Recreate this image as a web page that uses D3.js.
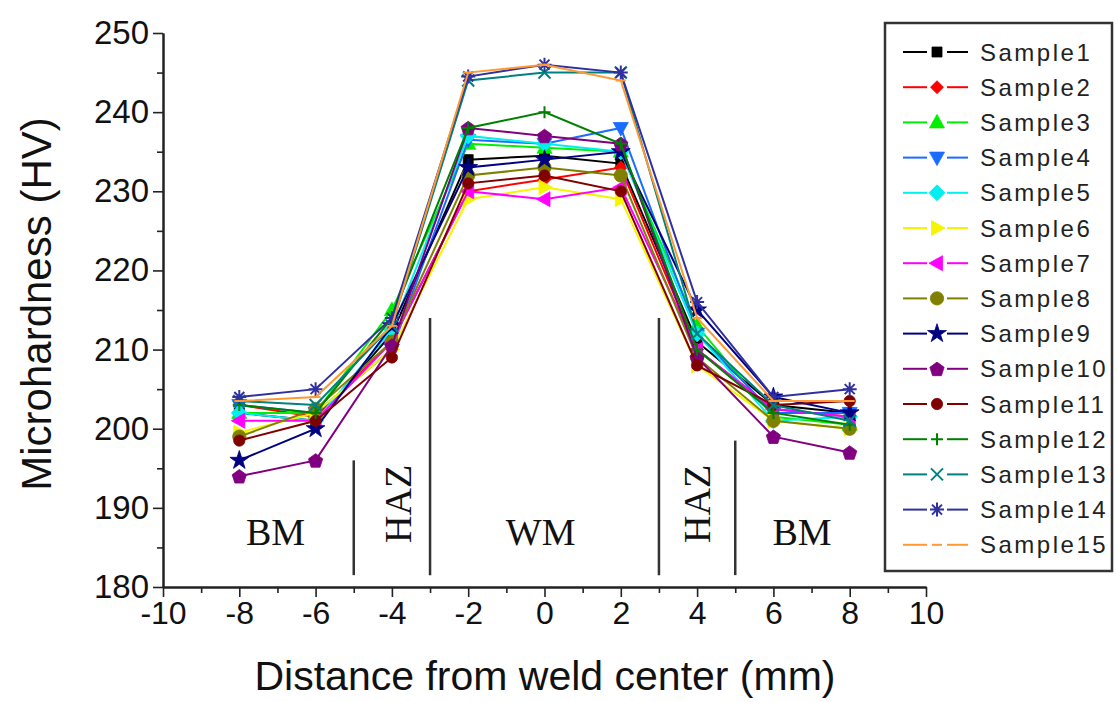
<!DOCTYPE html>
<html>
<head>
<meta charset="utf-8">
<script src="https://cdn.jsdelivr.net/npm/d3@7"></script>
<style>
  body { margin: 0; background: #fff; }
  svg { display: block; font-family: "Liberation Sans", Arial, sans-serif; }
</style>
</head>
<body>
<div id="chart"></div>
<script>
// distance from weld center (mm)
var distances = [-8, -6, -4, -2, 0, 2, 4, 6, 8];

// microhardness (HV)
var sample1  = [202, 201, 212, 234, 234.5, 233.5, 211, 203, 202];
var sample2  = [203, 201.5, 211, 230, 231.5, 233, 210, 202.5, 201.5];
var sample3  = [202, 202, 215, 236, 235.5, 235, 213, 201.5, 200.5];
var sample4  = [203, 202, 210, 236.5, 236, 238, 212, 202, 202];
var sample5  = [202, 201, 212.5, 237, 236, 235, 212, 201, 201.5];
var sample6  = [199.5, 202, 210, 229, 230.5, 229, 208, 201, 200];
var sample7  = [201, 201, 211, 230, 229, 230.5, 210, 202.5, 201.5];
var sample8  = [199, 202.5, 211, 232, 233, 232, 209, 201, 200];
var sample9  = [196, 200, 213, 233, 234, 235, 215, 204, 202];
var sample10 = [194, 196, 210.5, 238, 237, 236, 209, 199, 197];
var sample11 = [198.5, 201, 209, 231, 232, 230, 208, 203, 203.5];
var sample12 = [203, 202, 214, 238, 240, 236, 210, 202, 200.5];
var sample13 = [203.5, 203, 213, 244, 245, 245, 212, 203, 201];
var sample14 = [204, 205, 214, 244.5, 246, 245, 216, 204, 205];
var sample15 = [203.5, 204, 213, 245, 246, 244, 214, 203.5, 203.5];

var sampleNames = ["Sample1", "Sample2", "Sample3", "Sample4", "Sample5", "Sample6", "Sample7", "Sample8",
                   "Sample9", "Sample10", "Sample11", "Sample12", "Sample13", "Sample14", "Sample15"];
var sampleValues = [sample1, sample2, sample3, sample4, sample5, sample6, sample7, sample8,
                    sample9, sample10, sample11, sample12, sample13, sample14, sample15];

var sampleColors = ["#000000", "#ff0000", "#00ee00", "#1a6cff", "#00f0f0", "#f5f500", "#ff00ff", "#808000",
                    "#000080", "#800080", "#800000", "#008000", "#008080", "#3030a0", "#ff9933"];
var sampleShapes = ["square", "diamond", "triUp", "triDown", "bigDiamond", "triRight", "triLeft", "circle",
                    "star", "pentagon", "ball", "plus", "cross", "asterisk", "dash"];

// zones along the weld
var zoneBounds = [-5, -3, 3, 5];
var zoneBoundTops = [196, 214, 214, 198.5];
var zoneLabels = ["BM", "HAZ", "WM", "HAZ", "BM"];
var zoneLabelX = [-7.05, -3.85, -0.1, 4.0, 6.75];
var zoneLabelY = [187, 190.5, 187, 190.5, 187];

var yMajor = d3.range(180, 251, 10);
var yMinor = d3.range(185, 250, 10);
var xMajor = d3.range(-10, 11, 2);
var xMinor = d3.range(-9, 10, 2);

var W = 1118, H = 702;

var svg = d3.select("#chart").append("svg")
    .attr("width", W)
    .attr("height", H);

svg.append("rect").attr("width", W).attr("height", H).attr("fill", "#fff");

var x = d3.scaleLinear().domain([-10, 10]).range([163, 926]);
var y = d3.scaleLinear().domain([180, 250]).range([587, 33]);

// axes (plain hyphen for negatives, like the original)
var plain = d => String(d);

var yAxis = svg.append("g")
    .attr("transform", "translate(" + x(-10) + ",0)")
    .call(d3.axisLeft(y).tickValues(yMajor).tickSize(10).tickSizeOuter(0).tickPadding(4).tickFormat(plain));
svg.append("g")
    .attr("transform", "translate(" + x(-10) + ",0)")
    .call(d3.axisLeft(y).tickValues(yMinor).tickSize(6).tickSizeOuter(0).tickFormat(""));

var xAxis = svg.append("g")
    .attr("transform", "translate(0," + y(180) + ")")
    .call(d3.axisBottom(x).tickValues(xMajor).tickSize(10).tickSizeOuter(0).tickPadding(4).tickFormat(plain));
svg.append("g")
    .attr("transform", "translate(0," + y(180) + ")")
    .call(d3.axisBottom(x).tickValues(xMinor).tickSize(6).tickSizeOuter(0).tickFormat(""));

svg.selectAll(".domain").attr("stroke", "#222").attr("stroke-width", 2);
svg.selectAll(".tick line").attr("stroke", "#222").attr("stroke-width", 1.6);
yAxis.selectAll("text").attr("font-size", 33).attr("fill", "#111")
    .attr("font-family", "'Liberation Sans', Arial, sans-serif");
xAxis.selectAll("text").attr("font-size", 32).attr("fill", "#111")
    .attr("font-family", "'Liberation Sans', Arial, sans-serif");

// axis titles
svg.append("text")
    .attr("transform", "translate(51,304) rotate(-90)")
    .attr("text-anchor", "middle")
    .attr("font-size", 42)
    .attr("fill", "#111")
    .text("Microhardness (HV)");

svg.append("text")
    .attr("x", 545)
    .attr("y", 690)
    .attr("text-anchor", "middle")
    .attr("font-size", 41)
    .attr("fill", "#111")
    .text("Distance from weld center (mm)");

// zone separators
svg.selectAll(".zone")
  .data(zoneBounds)
  .enter()
  .append("line")
    .attr("x1", d => x(d))
    .attr("x2", d => x(d))
    .attr("y1", (d, i) => y(zoneBoundTops[i]))
    .attr("y2", y(181.5))
    .attr("stroke", "#333")
    .attr("stroke-width", 2.5);

svg.selectAll(".zoneLabel")
  .data(zoneLabels)
  .enter()
  .append("text")
    .attr("transform", function(d, i) {
      var t = "translate(" + x(zoneLabelX[i]) + "," + y(zoneLabelY[i]) + ")";
      return d === "HAZ" ? t + " rotate(-90)" : t;
    })
    .attr("text-anchor", "middle")
    .attr("dy", "0.35em")
    .style("font-family", "'Liberation Serif', 'Times New Roman', serif")
    .attr("font-size", 38)
    .attr("fill", "#111")
    .text(d => d);

// marker shapes
function markerPath(shape) {
  switch (shape) {
    case "square": return "M-5,-5h10v10h-10z";
    case "diamond": return "M0,-6.5L6.5,0L0,6.5L-6.5,0z";
    case "bigDiamond": return "M0,-8L8,0L0,8L-8,0z";
    case "triUp": return "M0,-8L7.5,5.5L-7.5,5.5z";
    case "triDown": return "M0,8L7.5,-5.5L-7.5,-5.5z";
    case "triRight": return "M8,0L-5.5,7.5L-5.5,-7.5z";
    case "triLeft": return "M-8,0L5.5,7.5L5.5,-7.5z";
    case "star": return d3.symbol(d3.symbolStar, 110)();
    case "pentagon":
      var pts = d3.range(5).map(k => {
        var a = -Math.PI / 2 + k * 2 * Math.PI / 5;
        return [7.5 * Math.cos(a), 7.5 * Math.sin(a) + 0.8];
      });
      return "M" + pts.join("L") + "z";
    case "circle": return d3.symbol(d3.symbolCircle, 140)();
    case "ball": return d3.symbol(d3.symbolCircle, 100)();
    case "plus": return "M-6,0H6M0,-6V6";
    case "cross": return "M-6,-6L6,6M-6,6L6,-6";
    case "asterisk": return "M-7,0H7M0,-7V7M-5,-5L5,5M-5,5L5,-5";
    case "dash": return "M-5,0H5";
  }
}
var openShapes = ["plus", "cross", "asterisk", "dash"];

function drawMarker(g, shape, color) {
  var open = openShapes.includes(shape);
  g.append("path")
    .attr("d", markerPath(shape))
    .attr("fill", open ? "none" : color)
    .attr("stroke", color)
    .attr("stroke-width", open ? 2 : 0.8);
}

// series
var line = d3.line()
    .x(d => x(d[0]))
    .y(d => y(d[1]));

sampleValues.forEach(function(vals, i) {
  var pts = distances.map((d, j) => [d, vals[j]]);
  svg.append("path")
    .datum(pts)
    .attr("fill", "none")
    .attr("stroke", sampleColors[i])
    .attr("stroke-width", 2)
    .attr("d", line);

  pts.forEach(function(p) {
    var g = svg.append("g").attr("transform", "translate(" + x(p[0]) + "," + y(p[1]) + ")");
    drawMarker(g, sampleShapes[i], sampleColors[i]);
  });
});

// legend
var legend = svg.append("g");
legend.append("rect")
    .attr("x", 885)
    .attr("y", 23)
    .attr("width", 227)
    .attr("height", 548)
    .attr("fill", "#fff")
    .attr("stroke", "#333")
    .attr("stroke-width", 2.5);

sampleNames.forEach(function(name, i) {
  var ly = 52 + i * 35.2;
  var c = sampleColors[i];
  legend.append("line").attr("x1", 903).attr("x2", 927).attr("y1", ly).attr("y2", ly)
    .attr("stroke", c).attr("stroke-width", 2);
  legend.append("line").attr("x1", 947).attr("x2", 968).attr("y1", ly).attr("y2", ly)
    .attr("stroke", c).attr("stroke-width", 2);
  var g = legend.append("g").attr("transform", "translate(937," + ly + ")");
  drawMarker(g, sampleShapes[i], c);
  legend.append("text")
    .attr("x", 980)
    .attr("y", ly)
    .attr("dy", "0.36em")
    .attr("font-size", 24)
    .attr("letter-spacing", 2.5)
    .attr("fill", "#222")
    .text(name);
});
</script>
</body>
</html>
